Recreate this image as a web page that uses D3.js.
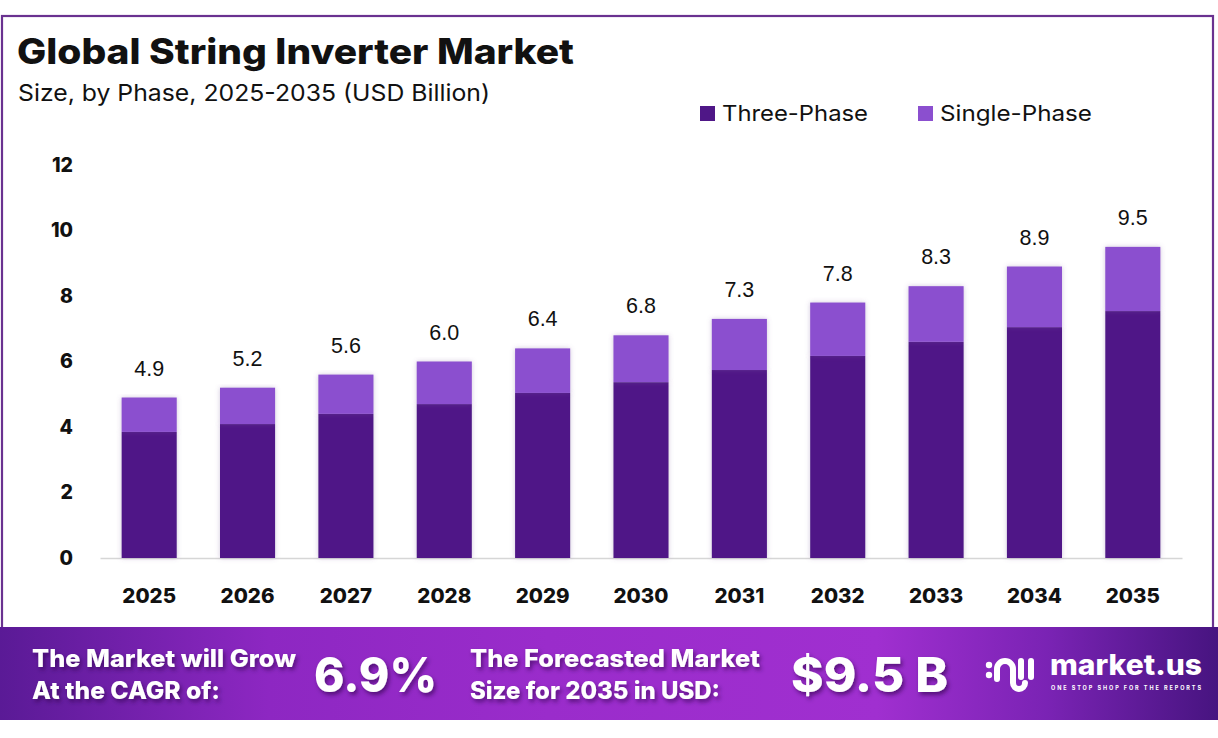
<!DOCTYPE html>
<html>
  <head>
    <meta charset="utf-8">
    <style>
      body { margin: 0; background: #fff; }
      svg text { font-family: "Inter", "Open Sans", sans-serif; }
    </style>
  </head>
  <body>
    <div id="my_dataviz"></div>
  </body>
</html>

<script src="https://d3js.org/d3.v7.min.js"></script>

<script>
  // chart data
  var years = ["2025", "2026", "2027", "2028", "2029", "2030", "2031", "2032", "2033", "2034", "2035"];
  var threePhase = [3.85, 4.09, 4.40, 4.70, 5.04, 5.37, 5.74, 6.17, 6.60, 7.05, 7.54];
  var singlePhase = [1.05, 1.11, 1.20, 1.30, 1.36, 1.43, 1.56, 1.63, 1.70, 1.85, 1.96];
  var totals = ["4.9", "5.2", "5.6", "6.0", "6.4", "6.8", "7.3", "7.8", "8.3", "8.9", "9.5"];
  var yTicks = [0, 2, 4, 6, 8, 10, 12];
  var seriesNames = ["Three-Phase", "Single-Phase"];
  var colors = ["#4f1787", "#8b4fcf"];

  var W = 1218, H = 738;
  var margin = {top: 165, left: 100},
      width = 1182 - margin.left,
      height = 558 - margin.top;

  var svg = d3.select("#my_dataviz")
    .append("svg")
      .attr("width", W)
      .attr("height", H);

  var defs = svg.append("defs");

  // soft shadow for bars
  var sh = defs.append("filter").attr("id", "barShadow")
    .attr("x", "-20%").attr("y", "-10%").attr("width", "140%").attr("height", "120%");
  sh.append("feDropShadow").attr("dx", 0).attr("dy", 0).attr("stdDeviation", 2.5)
    .attr("flood-color", "#7a5a99").attr("flood-opacity", 0.35);

  var ts = defs.append("filter").attr("id", "txtShadow")
    .attr("x", "-10%").attr("y", "-20%").attr("width", "130%").attr("height", "150%");
  ts.append("feDropShadow").attr("dx", 2).attr("dy", 3).attr("stdDeviation", 2)
    .attr("flood-color", "#2a0548").attr("flood-opacity", 0.6);

  // outer frame
  svg.append("rect")
    .attr("x", 2).attr("y", 16)
    .attr("width", 1211).attr("height", 700)
    .attr("fill", "none")
    .attr("stroke", "#6a3290")
    .attr("stroke-width", 2.2);

  // title
  svg.append("text")
    .attr("x", 17).attr("y", 64)
    .attr("font-size", 35).attr("font-weight", 800)
    .attr("textLength", 557).attr("lengthAdjust", "spacingAndGlyphs")
    .attr("fill", "#111")
    .text("Global String Inverter Market");

  svg.append("text")
    .attr("x", 18).attr("y", 101)
    .attr("font-size", 23)
    .attr("textLength", 472).attr("lengthAdjust", "spacingAndGlyphs")
    .attr("fill", "#111")
    .text("Size, by Phase, 2025-2035 (USD Billion)");

  // legend
  var legX = [700, 918], legLen = [146, 152];
  seriesNames.forEach(function(name, i) {
    svg.append("rect")
      .attr("x", legX[i]).attr("y", 106)
      .attr("width", 15).attr("height", 15)
      .attr("fill", colors[i]);
    svg.append("text")
      .attr("x", legX[i] + 22).attr("y", 121)
      .attr("font-size", 22)
      .attr("textLength", legLen[i]).attr("lengthAdjust", "spacingAndGlyphs")
      .attr("fill", "#111")
      .text(name);
  });

  var g = svg.append("g")
    .attr("transform", "translate(" + margin.left + "," + margin.top + ")");

  // scales
  var x = d3.scaleBand()
    .domain(years)
    .range([0, width])
    .paddingInner(0.44)
    .paddingOuter(0.22);

  var y = d3.scaleLinear()
    .domain([0, 12])
    .range([height, 0]);

  // Y axis (labels only)
  var yAxis = g.append("g")
    .call(d3.axisLeft(y).tickValues(yTicks).tickSize(0).tickPadding(27));
  yAxis.select(".domain").remove();
  yAxis.selectAll("text")
    .attr("font-size", 19.5).attr("font-weight", 800)
    .attr("fill", "#111")
    .style("font-family", "Inter, sans-serif");

  // X axis
  var xAxis = g.append("g")
    .attr("transform", "translate(0," + height + ")")
    .call(d3.axisBottom(x).tickSize(0).tickPadding(30));
  xAxis.select(".domain").attr("stroke", "#d6d6d6").attr("stroke-width", 1.5);
  xAxis.selectAll("text")
    .attr("font-size", 20.5).attr("font-weight", 800)
    .attr("fill", "#111")
    .style("font-family", "Inter, sans-serif");

  // stacked data
  var rows = years.map(function(yr, i) {
    return {year: yr, "Three-Phase": threePhase[i], "Single-Phase": singlePhase[i], label: totals[i]};
  });
  var stack = d3.stack().keys(seriesNames)(rows);

  var layers = g.selectAll(".layer")
    .data(stack)
    .enter().append("g")
      .attr("class", "layer")
      .attr("fill", function(d, i) { return colors[i]; });

  layers.selectAll("rect")
    .data(function(d) { return d; })
    .enter().append("rect")
      .attr("x", function(d) { return x(d.data.year); })
      .attr("y", function(d) { return y(d[1]); })
      .attr("width", x.bandwidth())
      .attr("height", function(d) { return y(d[0]) - y(d[1]); })
      .attr("filter", "url(#barShadow)");

  // total labels
  g.selectAll(".total")
    .data(rows)
    .enter().append("text")
      .attr("class", "total")
      .attr("x", function(d) { return x(d.year) + x.bandwidth() / 2; })
      .attr("y", function(d) { return y(+d.label) - 22; })
      .attr("text-anchor", "middle")
      .attr("font-size", 21.5)
      .attr("fill", "#111")
      .style("font-family", "Liberation Sans, Arial, sans-serif")
      .text(function(d) { return d.label; });

  // bottom banner
  var grad = defs.append("linearGradient").attr("id", "bannerGrad")
    .attr("x1", "0%").attr("x2", "100%").attr("y1", "0%").attr("y2", "0%");
  [["0%", "#5a1a96"], ["22%", "#8d27c2"], ["45%", "#9a2ccb"], ["72%", "#a02fd0"], ["86%", "#7a23b4"], ["100%", "#471480"]]
    .forEach(function(s) { grad.append("stop").attr("offset", s[0]).attr("stop-color", s[1]); });

  svg.append("rect")
    .attr("x", 0).attr("y", 627)
    .attr("width", 1218).attr("height", 93)
    .attr("fill", "url(#bannerGrad)");

  var bannerTxt = [
    {t: "The Market will Grow", x: 32, y: 667, len: 264},
    {t: "At the CAGR of:", x: 32, y: 699, len: 188},
    {t: "The Forecasted Market", x: 470, y: 667, len: 290},
    {t: "Size for 2035 in USD:", x: 470, y: 699, len: 250}
  ];
  bannerTxt.forEach(function(b) {
    svg.append("text")
      .attr("x", b.x).attr("y", b.y)
      .attr("font-size", 24).attr("font-weight", 800)
      .attr("textLength", b.len).attr("lengthAdjust", "spacingAndGlyphs")
      .attr("fill", "#fff")
      .attr("filter", "url(#txtShadow)")
      .text(b.t);
  });

  svg.append("text")
    .attr("x", 314).attr("y", 692)
    .attr("font-size", 48).attr("font-weight", 800)
    .attr("textLength", 123).attr("lengthAdjust", "spacingAndGlyphs")
    .attr("fill", "#fff")
    .attr("filter", "url(#txtShadow)")
    .text("6.9%");

  svg.append("text")
    .attr("x", 791).attr("y", 692)
    .attr("font-size", 48).attr("font-weight", 800)
    .attr("textLength", 157).attr("lengthAdjust", "spacingAndGlyphs")
    .attr("fill", "#fff")
    .attr("filter", "url(#txtShadow)")
    .text("$9.5 B");

  // logo
  var logo = svg.append("g").attr("transform", "translate(985,655)");
  logo.append("circle").attr("cx", 4).attr("cy", 10).attr("r", 3.2).attr("fill", "#fff");
  logo.append("circle").attr("cx", 4).attr("cy", 20).attr("r", 3.2).attr("fill", "#fff");
  logo.append("path")
    .attr("d", "M12,24 L12,14 A8,8 0 0 1 28,14 L28,28 A6,6 0 0 0 40,28")
    .attr("fill", "none").attr("stroke", "#fff").attr("stroke-width", 6).attr("stroke-linecap", "round");
  logo.append("line").attr("x1", 36).attr("y1", 6).attr("x2", 36).attr("y2", 22)
    .attr("stroke", "#fff").attr("stroke-width", 6).attr("stroke-linecap", "round");
  logo.append("line").attr("x1", 46).attr("y1", 6).attr("x2", 46).attr("y2", 22)
    .attr("stroke", "#fff").attr("stroke-width", 6).attr("stroke-linecap", "round");

  svg.append("text")
    .attr("x", 1050).attr("y", 675)
    .attr("font-size", 28).attr("font-weight", 800)
    .attr("textLength", 152).attr("lengthAdjust", "spacingAndGlyphs")
    .attr("fill", "#fff")
    .text("market.us");

  svg.append("text")
    .attr("x", 1051).attr("y", 690)
    .attr("font-size", 5.5).attr("font-weight", 700)
    .attr("textLength", 150).attr("lengthAdjust", "spacing")
    .attr("fill", "#fff")
    .text("ONE STOP SHOP FOR THE REPORTS");
</script>
